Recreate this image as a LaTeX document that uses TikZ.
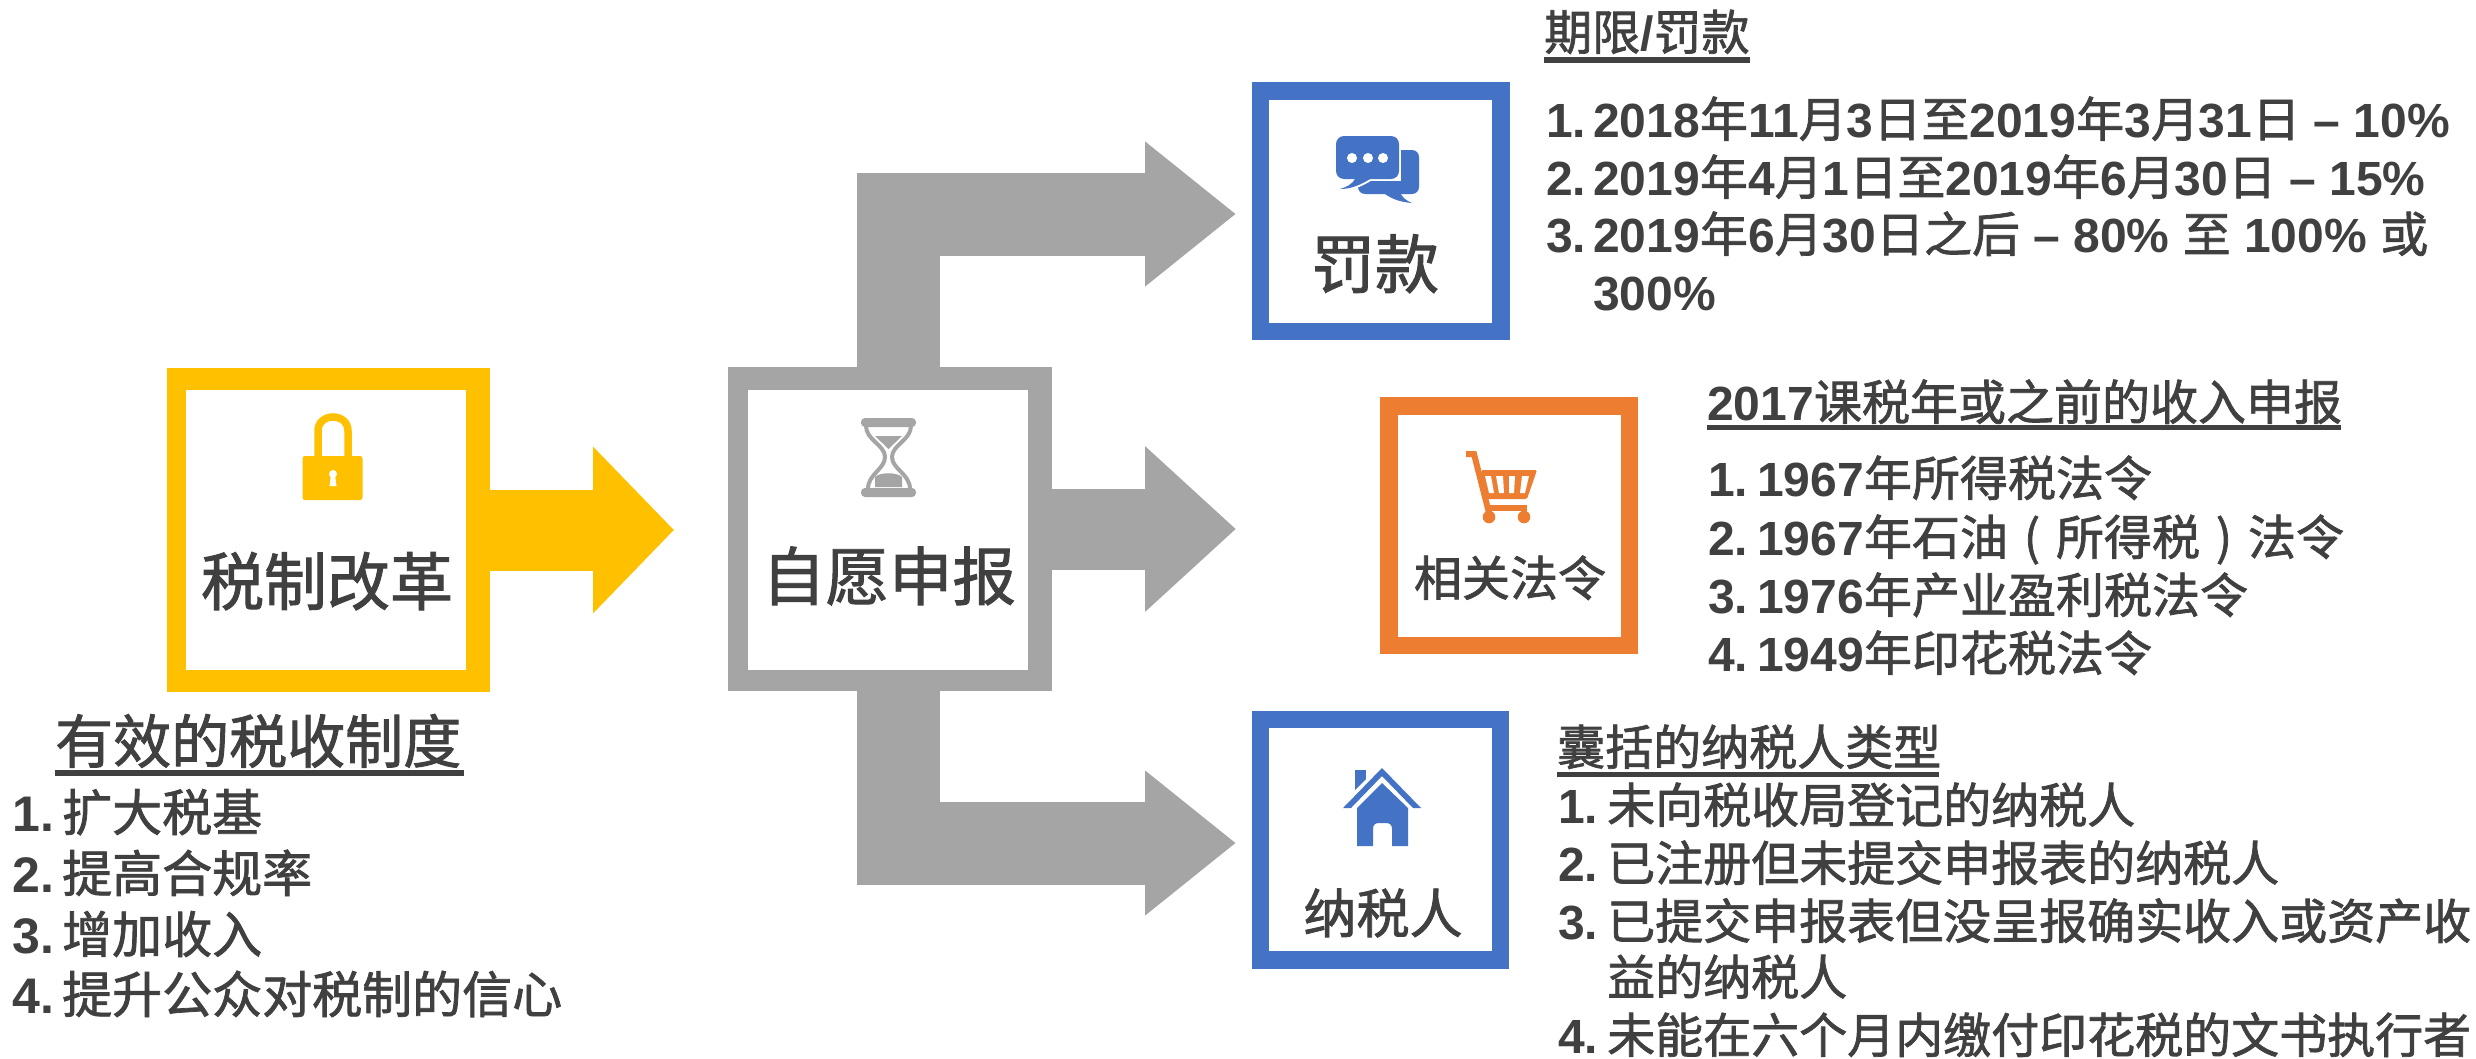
\documentclass[tikz,border=0pt]{standalone}
\usepackage{fontspec}
\setmainfont{Liberation Sans}
\newfontfamily\cjkf[FakeBold=1.5]{Noto Sans CJK SC}
\newfontfamily\cjkb[FakeBold=1.5]{Noto Sans CJK SC}
\newcommand\zh[1]{{\mdseries\cjkf #1}}
\newcommand\nm[1]{\makebox[49pt][l]{#1}}
\newcommand\nmb[1]{\makebox[50pt][l]{#1}}
\usetikzlibrary{arrows.meta}
\definecolor{ink}{HTML}{404040}
\definecolor{yel}{HTML}{FFC000}
\definecolor{gry}{HTML}{A5A5A5}
\definecolor{blu}{HTML}{4472C4}
\definecolor{org}{HTML}{ED7D31}
\tikzset{
  x=1pt,y=-1pt,
  txt/.style={anchor=base west,inner sep=0pt,text=ink,font=\bfseries\fontsize{48pt}{58pt}\selectfont},
  txtbig/.style={txt,font=\bfseries\fontsize{50pt}{60pt}\selectfont},
  txthead/.style={txt,font=\bfseries\fontsize{58pt}{70pt}\selectfont},
  title/.style={anchor=base,inner sep=0pt,text=ink,font=\cjkb\fontsize{#1}{#1}\selectfont},
  rule/.style={fill=ink},
  grayarrow/.style={gry,line width=83pt,-{Triangle[length=91pt,width=139pt]}},
  outerbox/.style={inner sep=0pt,outer sep=0pt,anchor=north west},
  innerbox/.style={fill=white,inner sep=0pt,outer sep=0pt,anchor=north west},
}
\begin{document}
\begin{tikzpicture}
\useasboundingbox (0,0) rectangle (2476,1058);
% outer frames
\node[outerbox,fill=yel,minimum width=323pt,minimum height=324pt] (tax) at (167,368) {};
\node[outerbox,fill=gry,minimum width=324pt,minimum height=324pt] (report) at (728,367) {};
\node[outerbox,fill=blu,minimum width=258pt,minimum height=258pt] (fine) at (1252,82) {};
\node[outerbox,fill=org,minimum width=258pt,minimum height=257pt] (law) at (1380,397) {};
\node[outerbox,fill=blu,minimum width=257pt,minimum height=258pt] (payer) at (1252,711) {};
% block arrows
\draw[yel,line width=81pt,-{Triangle[length=81pt,width=162pt]}] (tax.east) -- ([xshift=184pt]tax.east);
\draw[grayarrow] ([xshift=8.5pt]report.north) |- ([xshift=-16pt,yshift=-3pt]fine.west);
\draw[gry,line width=81pt,-{Triangle[length=91pt,width=160pt]}] (report.east) -- ([xshift=-144pt]law.west |- report.east);
\draw[grayarrow] ([xshift=8.5pt]report.south) |- ([xshift=-16pt,yshift=-3pt]payer.west);
% inner whites
\node[innerbox,minimum width=280pt,minimum height=280pt] (taxin) at (186,390) {};
\node[innerbox,minimum width=280pt,minimum height=280pt] (reportin) at (748,390) {};
\node[innerbox,minimum width=223pt,minimum height=223pt] (finein) at (1269,100) {};
\node[innerbox,minimum width=223pt,minimum height=222pt] (lawin) at (1398,415) {};
\node[innerbox,minimum width=223pt,minimum height=223pt] (payerin) at (1269,728) {};
% titles
\node[title=63pt] (t1) at (327,605) {税制改革};
\node[title=63.5pt] (t2) at (889,600) {自愿申报};
\node[title=64pt] (t3) at (1375,288) {罚款};
\node[title=48pt] (t4) at (1510,596) {相关法令};
\node[title=53pt] (t5) at (1383,933) {纳税人};
% lock
\fill[yel,rounded corners=2.5pt] (302.5,456) rectangle (362.5,500);
\draw[yel,line width=7.5pt] (318,457) -- (318,431) .. controls (318,412.3) and (348,412.3) .. (348,431) -- (348,457);
\fill[white] (333,474) circle (4);
\fill[white] (331,475) -- (335,475) -- (336.5,486) -- (329.5,486) -- cycle;
% hourglass
\fill[gry,rounded corners=4pt] (861,418) rectangle (916,427);
\fill[gry,rounded corners=4pt] (861,488) rectangle (916,497);
\draw[gry,line width=4pt] (866,426) .. controls (866,440) and (885,445) .. (885,457) .. controls (885,469) and (868,474) .. (868,489);
\draw[gry,line width=4pt] (911,426) .. controls (911,440) and (892,445) .. (892,457) .. controls (892,469) and (910,474) .. (910,489);
\fill[gry] (875,436) -- (902,436) -- (888.5,449) -- cycle;
\fill[gry] (875,487) -- (875,477) .. controls (880,472) and (897,472) .. (902,477) -- (902,487) -- cycle;
% chat
\fill[blu,rounded corners=7pt] (1358,150) rectangle (1419,194);
\fill[blu] (1385,192) -- (1385,194) .. controls (1392,199) and (1400,202) .. (1412,203) .. controls (1405,200) and (1402,197) .. (1400,192) -- cycle;
\draw[white,line width=4pt] (1344,136) rectangle (1399,179);
\draw[white,line width=4pt] (1355,179) .. controls (1352,184) and (1347,187) .. (1340,189) .. controls (1352,189) and (1362,184) .. (1370,179);
\fill[blu,rounded corners=8pt] (1336,136) rectangle (1399,179);
\fill[blu] (1352,176) -- (1355,179) .. controls (1352,184) and (1347,187) .. (1340,189) .. controls (1352,189) and (1362,184) .. (1370,179) -- (1372,176) -- cycle;
\fill[white] (1352,158) circle (5) (1368,158) circle (5) (1383,158) circle (5);
% cart
\draw[org,line width=6pt] (1466,454) -- (1474,454) -- (1489,513);
\fill[org,rounded corners=1.5pt] (1481,470) -- (1537,470) -- (1527,499) -- (1487,499) -- cycle;
\fill[white] (1485,476) -- (1491,476) -- (1494,493) -- (1489,493) -- cycle;
\fill[white] (1496,476) -- (1503,476) -- (1504,493) -- (1499,493) -- cycle;
\fill[white] (1509,476) -- (1515,476) -- (1514,493) -- (1509,493) -- cycle;
\fill[white] (1522,476) -- (1529,476) -- (1525,493) -- (1520,493) -- cycle;
\fill[org] (1488,505) rectangle (1527,511);
\fill[org] (1489,517) circle (6.3) (1524,517) circle (6.3);
% house
\fill[blu] (1382,768) -- (1421,808) -- (1413,808) -- (1382,776) -- (1351,808) -- (1343,808) -- cycle;
\fill[blu] (1355,770) rectangle (1366,779);
\fill[blu] (1355,770) -- (1355,790) -- (1366,779) -- cycle;
\fill[blu] (1382,783) -- (1408,808) -- (1408,846) -- (1392,846) -- (1392,829) .. controls (1392,825) and (1390,823) .. (1386,823) -- (1379,823) .. controls (1375,823) and (1373,825) .. (1373,829) -- (1373,846) -- (1357,846) -- (1357,808) -- cycle;
% left list
\node[txthead] (h1) at (55,763) {\zh{有效的税收制度}};
\fill[rule] (55,770) rectangle (464,776);
\node[txtbig] (a1) at (12,831) {\nmb{1.}\zh{扩大税基}};
\node[txtbig] (a2) at (12,892) {\nmb{2.}\zh{提高合规率}};
\node[txtbig] (a3) at (12,953) {\nmb{3.}\zh{增加收入}};
\node[txtbig] (a4) at (12,1013) {\nmb{4.}\zh{提升公众对税制的信心}};
% fines
\node[txt] (h2) at (1544,50) {\zh{期限}/\zh{罚款}};
\fill[rule] (1544,57) rectangle (1750,63);
\node[txt] (b1) at (1546,137) {\makebox[47pt][l]{1.}2018\zh{年}11\zh{月}3\zh{日至}2019\zh{年}3\zh{月}31\zh{日} – 10\%};
\node[txt] (b2) at (1546,195) {\makebox[47pt][l]{2.}2019\zh{年}4\zh{月}1\zh{日至}2019\zh{年}6\zh{月}30\zh{日} – 15\%};
\node[txt] (b3) at (1546,252) {\makebox[47pt][l]{3.}2019\zh{年}6\zh{月}30\zh{日之后} – 80\% \zh{至} 100\% \zh{或}};
\node[txt] (b4) at (1593,310) {300\%};
% acts
\node[txt] (h3) at (1707,420) {2017\zh{课税年或之前的收入申报}};
\fill[rule] (1707,425) rectangle (2341,430);
\node[txt] (c1) at (1708,496) {\nm{1.}1967\zh{年所得税法令}};
\node[txt] (c2) at (1708,555) {\nm{2.}1967\zh{年石油}\makebox[48pt][c]{\zh{(}}\zh{所得税}\makebox[48pt][c]{\zh{)}}\zh{法令}};
\node[txt] (c3) at (1708,613) {\nm{3.}1976\zh{年产业盈利税法令}};
\node[txt] (c4) at (1708,671) {\nm{4.}1949\zh{年印花税法令}};
% payers
\node[txt] (h4) at (1557,765) {\zh{囊括的纳税人类型}};
\fill[rule] (1557,772) rectangle (1939,777);
\node[txt] (d1) at (1558,823) {\nm{1.}\zh{未向税收局登记的纳税人}};
\node[txt] (d2) at (1558,881) {\nm{2.}\zh{已注册但未提交申报表的纳税人}};
\node[txt] (d3) at (1558,939) {\nm{3.}\zh{已提交申报表但没呈报确实收入或资产收}};
\node[txt] (d5) at (1607,995) {\zh{益的纳税人}};
\node[txt] (d4) at (1558,1053) {\nm{4.}\zh{未能在六个月内缴付印花税的文书执行者}};
\end{tikzpicture}
\end{document}
